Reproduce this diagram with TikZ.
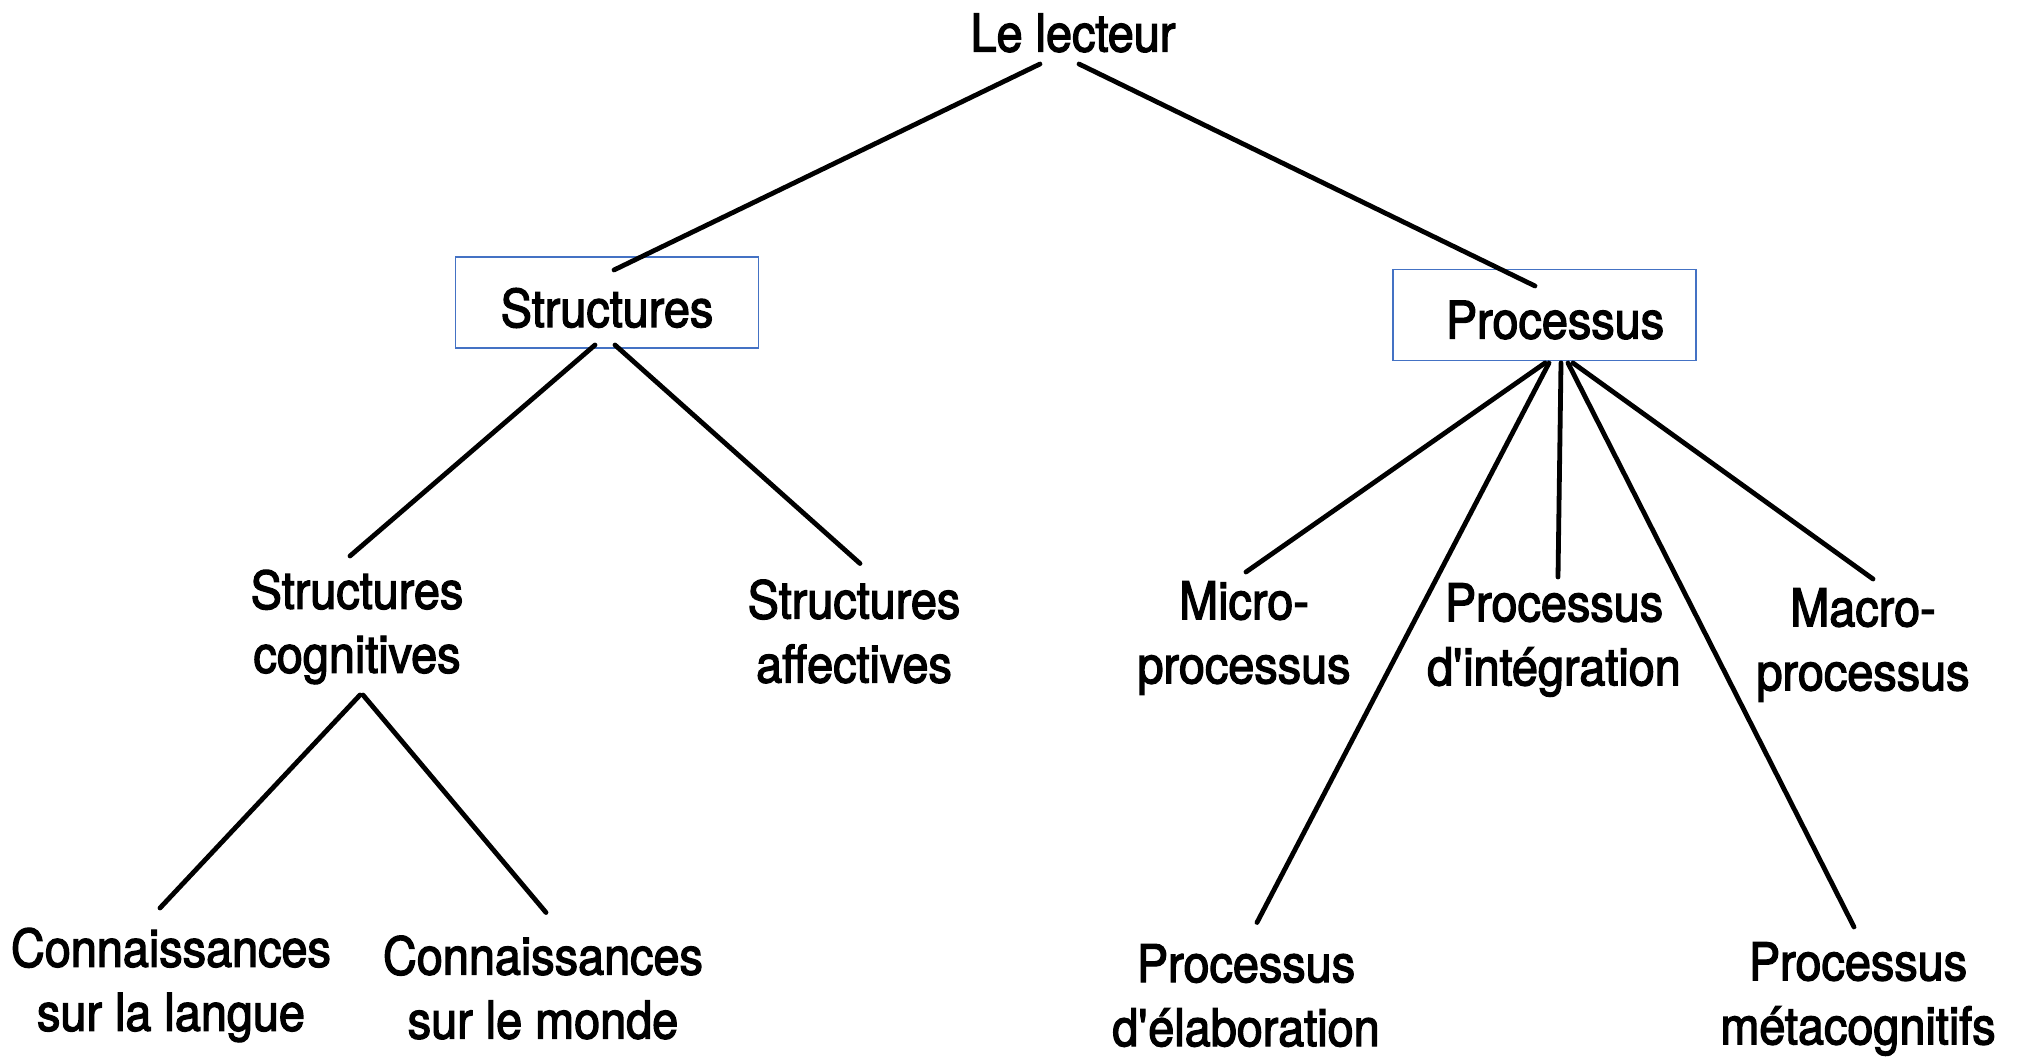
\documentclass[tikz,border=0pt]{standalone}
\usepackage{fontspec}
\setmainfont{TeX Gyre Heros}[FakeStretch=0.9, FakeBold=2.5]
\definecolor{boxblue}{HTML}{4472C4}
\newcommand{\apos}{\textquotesingle}
\begin{document}
\begin{tikzpicture}[x=0.5pt,y=-0.5pt,
  lbl/.style={font=\fontsize{26}{32}\selectfont, align=center, inner sep=0pt},
  bx/.style={draw=boxblue, line width=0.8pt, minimum width=151.5pt, minimum height=45.5pt, inner sep=0pt},
  edge/.style={line width=2.4pt, line cap=round}]
\useasboundingbox (0,0) rectangle (2019,1058);
\fill[white] (0,0) rectangle (2019,1058);
% boxes
\node[bx] (bstruct) at (607,302.5) {};
\node[bx] (bproc) at (1544.5,315) {};
% labels
\node[lbl] (lecteur) at (1073,33) {Le lecteur};
\node[lbl] (struct) at (607,308) {Structures};
\node[lbl] (proc) at (1555,320) {Processus};
\node[lbl] (scog) at (357,627) {Structures\\cognitives};
\node[lbl] (saff) at (854,631.5) {Structures\\affectives};
\node[lbl] (clang) at (171,985) {Connaissances\\sur la langue};
\node[lbl] (cmonde) at (543,987.5) {Connaissances\\sur le monde};
\node[lbl] (micro) at (1244,638) {Micro-\\processus};
\node[lbl] (integ) at (1554,640) {Processus\\d\apos intégration};
\node[lbl] (macro) at (1863,645) {Macro-\\processus};
\node[lbl] (elab) at (1246,995.5) {Processus\\d\apos élaboration};
\node[lbl] (meta) at (1858,999) {Processus\\métacognitifs};
% connectors
\draw[edge] ([shift={(-33,31)}]lecteur.center) -- ([shift={(7,-38)}]struct.center);
\draw[edge] ([shift={(6,31)}]lecteur.center) -- ([shift={(-20,-34)}]proc.center);
\draw[edge] ([shift={(-12,37)}]struct.center) -- ([shift={(-7,-71)}]scog.center);
\draw[edge] ([shift={(8,37)}]struct.center) -- ([shift={(6,-68)}]saff.center);
\draw[edge] ([shift={(3,68)}]scog.center) -- ([shift={(-11,-77)}]clang.center);
\draw[edge] ([shift={(6,68)}]scog.center) -- ([shift={(3,-75)}]cmonde.center);
\draw[edge] ([shift={(-10,43)}]proc.center) -- ([shift={(2,-66)}]micro.center);
\draw[edge] ([shift={(-6,43)}]proc.center) -- ([shift={(11,-73)}]elab.center);
\draw[edge] ([shift={(6,43)}]proc.center) -- ([shift={(4,-63)}]integ.center);
\draw[edge] ([shift={(13,43)}]proc.center) -- ([shift={(-4,-72)}]meta.center);
\draw[edge] ([shift={(18,43)}]proc.center) -- ([shift={(10,-66)}]macro.center);
\end{tikzpicture}
\end{document}
